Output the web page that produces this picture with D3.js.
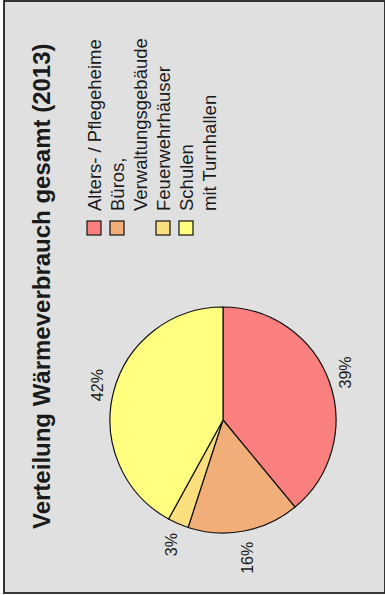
<!DOCTYPE html>
<html>
<head>
<meta charset="utf-8">
<script src="https://cdn.jsdelivr.net/npm/d3@7"></script>
<style>
  html, body { margin: 0; padding: 0; background: #ffffff; }
  svg { display: block; }
  text { font-family: "Liberation Sans", Arial, Helvetica, sans-serif; fill: #1a1a1a; }
</style>
</head>
<body>
<script>
// Heat consumption shares by building type, 2013
const categories = [
  ["Alters- / Pflegeheime"],
  ["Büros,", "Verwaltungsgebäude"],
  ["Feuerwehrhäuser"],
  ["Schulen", "mit Turnhallen"]
];
const shares = [39, 16, 3, 42];
const colors = ["#fa8080", "#f2ae78", "#fbdf7e", "#ffff80"];
const title = "Verteilung Wärmeverbrauch gesamt (2013)";

const W = 385, H = 595;
// The chart is laid out landscape (595 x 385) and turned a quarter turn.
const CW = 595, CH = 385;

const svg = d3.select("body").append("svg")
  .attr("width", W).attr("height", H);

svg.append("rect").attr("width", W).attr("height", H).attr("fill", "#ffffff");

const g = svg.append("g")
  .attr("transform", `translate(0,${H}) rotate(-90)`);

// panel
g.append("rect")
  .attr("x", 2).attr("y", 4)
  .attr("width", CW - 3).attr("height", CH - 4)
  .attr("fill", "#e0e0e0")
  .attr("stroke", "#222").attr("stroke-width", 1.8);

// title
g.append("text")
  .attr("x", 66).attr("y", 50)
  .attr("font-size", 24).attr("font-weight", "bold")
  .text(title);

// pie
const cx = 175, cy = 223, r = 113;
const pie = d3.pie().sort(null)
  .startAngle(Math.PI / 2).endAngle(Math.PI / 2 + 2 * Math.PI);
const arcs = pie(shares);
const arc = d3.arc().innerRadius(0).outerRadius(r);

const pg = g.append("g").attr("transform", `translate(${cx},${cy})`);
pg.selectAll("path.slice").data(arcs).join("path")
  .attr("class", "slice")
  .attr("d", arc)
  .attr("fill", (d, i) => colors[i])
  .attr("stroke", "#111").attr("stroke-width", 1.2)
  .attr("stroke-linejoin", "round");

// percentage labels just outside the rim
const labR = r * 1.1;
pg.selectAll("text.lab").data(arcs).join("text")
  .attr("class", "lab")
  .attr("font-size", 16)
  .attr("text-anchor", "middle")
  .text(d => d.data + "%")
  .each(function (d) {
    const a = (d.startAngle + d.endAngle) / 2;
    const ux = Math.sin(a), uy = -Math.cos(a);
    const bb = this.getBBox();
    const x = labR * ux + ux * bb.width / 2;
    const y = labR * uy + uy * 6 + 5.8;
    d3.select(this).attr("x", x).attr("y", y);
  });

// legend
const lgX = 360, lgText = 384, lineH = 23, firstBase = 101, box = 14;
let line = 0;
categories.forEach((lines, i) => {
  const base = firstBase + line * lineH;
  g.append("rect")
    .attr("x", lgX).attr("y", base - box)
    .attr("width", box).attr("height", box)
    .attr("fill", colors[i])
    .attr("stroke", "#111").attr("stroke-width", 1.2);
  lines.forEach((t, j) => {
    g.append("text")
      .attr("x", lgText).attr("y", base + j * lineH)
      .attr("font-size", 18.5)
      .text(t);
  });
  line += lines.length;
});
</script>
</body>
</html>
